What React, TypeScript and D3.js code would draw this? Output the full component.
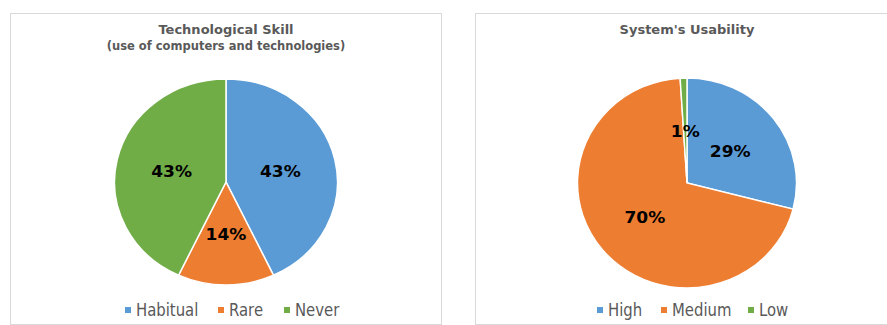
import React from "react";
import * as d3 from "d3";

const skillCategories = ["Habitual", "Rare", "Never"];
const skillValues = [43, 14, 43];
const skillLabels = ["43%", "14%", "43%"];

const usabilityCategories = ["High", "Medium", "Low"];
const usabilityValues = [29, 70, 1];
const usabilityLabels = ["29%", "70%", "1%"];

const colors = ["#5B9BD5", "#ED7D31", "#70AD47"];

type PieProps = {
  x: number; y: number; w: number; h: number;
  titles: string[];
  cx: number; cy: number; rx: number; ry: number;
  categories: string[]; values: number[]; labels: string[];
  legendX: number[];
};

function PiePanel(p: PieProps) {
  const pie = d3.pie<number>().sort(null).value((d) => d);
  const arcs = pie(p.values);
  const arc = d3.arc<d3.PieArcDatum<number>>().innerRadius(0).outerRadius(p.ry);
  const sx = p.rx / p.ry;
  const labelArc = d3.arc<d3.PieArcDatum<number>>().innerRadius(p.ry * 0.5).outerRadius(p.ry * 0.5);
  return (
    <g>
      <rect x={p.x + 0.5} y={p.y + 0.5} width={p.w} height={p.h} fill="#fff" stroke="#d9d9d9" />
      {p.titles.map((t, i) => (
        <text key={t} x={p.cx} y={i === 0 ? 34 : 50} textAnchor="middle"
          fontFamily="DejaVu Sans" fontWeight="bold" fontSize={i === 0 ? 13 : 11.5} fill="#595959">{t}</text>
      ))}
      <g transform={`translate(${p.cx},${p.cy}) scale(${sx},1)`}>
        {arcs.map((a, i) => (
          <path key={i} d={arc(a) || ""} fill={colors[i]} stroke="#fff" strokeWidth={1.4} />
        ))}
      </g>
      {arcs.map((a, i) => {
        const [lx, ly] = labelArc.centroid(a);
        return (
          <text key={i} transform={`translate(${p.cx + lx * sx},${p.cy + ly + 1}) scale(1.1,1)`}
            textAnchor="middle" dominantBaseline="central"
            fontFamily="DejaVu Sans" fontWeight="bold" fontSize={15.5} fill="#000">{p.labels[i]}</text>
        );
      })}
      {p.categories.map((c, i) => (
        <g key={c}>
          <rect x={p.legendX[i]} y={307} width={6} height={6} fill={colors[i]} />
          <text transform={`translate(${p.legendX[i] + 11},316) scale(0.85,1)`}
            fontFamily="DejaVu Sans" fontSize={17.5} fill="#595959">{c}</text>
        </g>
      ))}
    </g>
  );
}

export default function App() {
  return (
    <svg width={887} height={325} style={{ position: "absolute", left: 0, top: 0, background: "#fff" }}>
      <rect width={887} height={325} fill="#fff" />
      <PiePanel x={10} y={13} w={431} h={311}
        titles={["Technological Skill", "(use of computers and technologies)"]}
        cx={226} cy={182} rx={111.5} ry={103}
        categories={skillCategories} values={skillValues} labels={skillLabels}
        legendX={[125, 218, 284]} />
      <PiePanel x={475} y={13} w={420} h={311}
        titles={["System's Usability"]}
        cx={687} cy={183} rx={109.5} ry={105}
        categories={usabilityCategories} values={usabilityValues} labels={usabilityLabels}
        legendX={[597, 661, 748]} />
    </svg>
  );
}
